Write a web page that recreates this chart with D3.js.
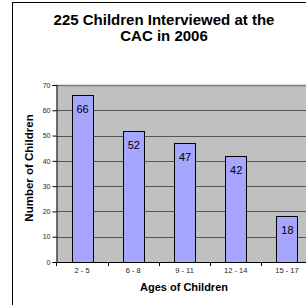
<!DOCTYPE html>
<html><head><meta charset="utf-8">
<script src="https://cdn.jsdelivr.net/npm/d3@7"></script>
<style>html,body{margin:0;padding:0;background:#fff;}svg{display:block;}</style>
</head><body>
<script>
const categories = ["2 - 5", "6 - 8", "9 - 11", "12 - 14", "15 - 17"];
const values = [66, 52, 47, 42, 18];
const yTicks = [0, 10, 20, 30, 40, 50, 60, 70];
const titleLines = ["225 Children Interviewed at the", "CAC in 2006"];
const xTitle = "Ages of Children";
const yTitle = "Number of Children";

(function () {
const W = 306, H = 305;
const svg = d3.select("body").append("svg").attr("width", W).attr("height", H);
const font = "Arial, 'Liberation Sans', sans-serif";

// outer border
svg.append("rect").attr("x", 12.5).attr("y", 2.5).attr("width", 320).attr("height", 320)
  .attr("fill", "#fff").attr("stroke", "#000").attr("stroke-width", 1);

const pL = 56.5, pR = 312.5, pT = 85, pB = 262;
const x = d3.scaleBand().domain(categories).range([pL, pR]).paddingInner(0.59).paddingOuter(0.295);
const y = d3.scaleLinear().domain([0, 70]).range([pB, pT]);

svg.append("rect").attr("x", pL).attr("y", pT).attr("width", pR - pL).attr("height", pB - pT)
  .attr("fill", "#c0c0c0");

// gridlines
svg.append("g").selectAll("line").data(yTicks.filter(d => d > 0)).join("line")
  .attr("x1", pL).attr("x2", pR)
  .attr("y1", d => Math.round(y(d)) + 0.5).attr("y2", d => Math.round(y(d)) + 0.5)
  .attr("stroke", d => d === 70 ? "#7a7a7a" : "#555").attr("stroke-width", d => d === 70 ? 1.5 : 1);

// bars
svg.append("g").selectAll("rect").data(values).join("rect")
  .attr("x", (d, i) => Math.round(x(categories[i])) + 0.5)
  .attr("y", d => Math.round(y(d)) + 0.5)
  .attr("width", x.bandwidth())
  .attr("height", d => pB - Math.round(y(d)))
  .attr("fill", "#a6a6ff").attr("stroke", "#000").attr("stroke-width", 1);

// value labels
svg.append("g").selectAll("text").data(values).join("text")
  .attr("x", (d, i) => x(categories[i]) + x.bandwidth() / 2 + 0.5)
  .attr("y", d => y(d) + 18)
  .attr("text-anchor", "middle").attr("font-family", font).attr("font-size", 11)
  .attr("fill", "#000").text(d => d);

// y axis
const yAxis = svg.append("g").attr("transform", `translate(${pL},0)`)
  .call(d3.axisLeft(y).tickValues(yTicks).tickSize(4).tickPadding(2));
yAxis.select(".domain").attr("stroke", "#000");
yAxis.selectAll(".tick line").attr("stroke", "#000");
yAxis.selectAll("text").attr("font-family", font).attr("font-size", 7).attr("fill", "#222");

// x axis
const xAxis = svg.append("g").attr("transform", `translate(0,${pB + 0.5})`);
xAxis.append("line").attr("x1", pL).attr("x2", pR).attr("stroke", "#000");
const bounds = categories.map((c, i) => x(c) - x.step() * x.paddingInner() / 2).concat([pR]);
xAxis.selectAll("line.tk").data(bounds).join("line").attr("class", "tk")
  .attr("x1", d => Math.round(d) + 0.5).attr("x2", d => Math.round(d) + 0.5)
  .attr("y1", 0).attr("y2", 3.5).attr("stroke", "#000");
xAxis.selectAll("text").data(categories).join("text")
  .attr("x", d => x(d) + x.bandwidth() / 2)
  .attr("y", 10).attr("text-anchor", "middle")
  .attr("font-family", font).attr("font-size", 7.5).attr("fill", "#222").text(d => d);

// titles
svg.append("g").selectAll("text").data(titleLines).join("text")
  .attr("x", 164).attr("y", (d, i) => 25 + i * 15.5)
  .attr("text-anchor", "middle").attr("font-family", font).attr("font-weight", "bold")
  .attr("font-size", 15).attr("fill", "#000").text(d => d);

svg.append("text").attr("x", 184).attr("y", 291)
  .attr("text-anchor", "middle").attr("font-family", font).attr("font-weight", "bold")
  .attr("font-size", 11).text(xTitle);

svg.append("text").attr("transform", "translate(33,168) rotate(-90)")
  .attr("text-anchor", "middle").attr("font-family", font).attr("font-weight", "bold")
  .attr("font-size", 11.5).text(yTitle);
})();
</script>
</body></html>
